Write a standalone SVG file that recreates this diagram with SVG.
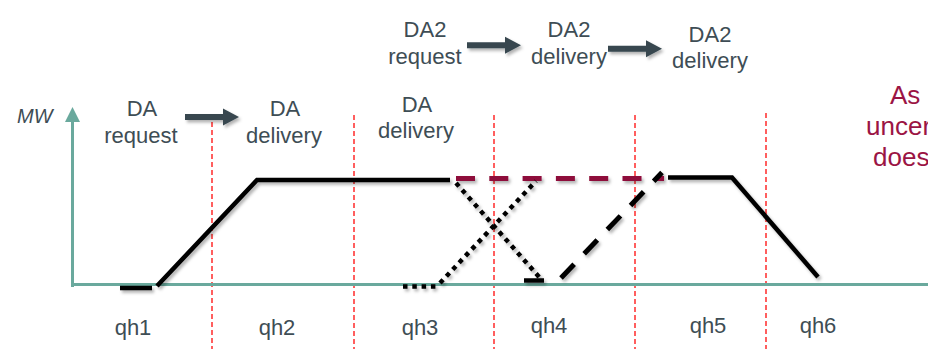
<svg xmlns="http://www.w3.org/2000/svg" width="928" height="349" viewBox="0 0 928 349">
  <defs>
    <filter id="shadow" x="-20%" y="-20%" width="140%" height="140%">
      <feDropShadow dx="2" dy="2.5" stdDeviation="1.4" flood-color="#000" flood-opacity="0.3"/>
    </filter>
    <style>
      .lbl { font-family: "Liberation Sans", Arial, sans-serif; font-size: 22px; fill: #3e4d55; text-anchor: middle; }
      .axis-lbl { font-family: "Liberation Sans", Arial, sans-serif; font-size: 20px; font-style: italic; fill: #3e4d55; }
      .note { font-family: "Liberation Sans", Arial, sans-serif; font-size: 26px; fill: #9b1444; }
      .guide { stroke: #ff2a2a; stroke-width: 1.5; stroke-dasharray: 5 3; fill: none; }
      .axis { stroke: #6aa99d; stroke-width: 3; fill: none; }
      .solid { stroke: #000; stroke-width: 4.5; fill: none; stroke-linejoin: miter; }
      .dotted { stroke: #000; stroke-width: 4.5; fill: none; stroke-dasharray: 4.5 4.8; }
      .dashed { stroke: #000; stroke-width: 5; fill: none; stroke-dasharray: 19 14.5; }
      .plan { stroke: #8e0a3a; stroke-width: 5; fill: none; stroke-dasharray: 19 14.3; }
      .step { fill: #37474f; }
    </style>
  </defs>

  <rect width="928" height="349" fill="#fff"/>

  <!-- quarter-hour boundaries -->
  <g id="guides">
    <line class="guide" x1="212" y1="122" x2="212" y2="349"/>
    <line class="guide" x1="354" y1="115" x2="354" y2="349"/>
    <line class="guide" x1="494" y1="115" x2="494" y2="349"/>
    <line class="guide" x1="635" y1="115" x2="635" y2="349"/>
    <line class="guide" x1="766" y1="113" x2="766" y2="349"/>
  </g>

  <!-- axes -->
  <g id="axes">
    <line class="axis" x1="72.5" y1="287" x2="72.5" y2="118"/>
    <polygon points="72.5,107 80,122 65,122" fill="#6aa99d"/>
    <line class="axis" x1="71" y1="284.5" x2="928" y2="284.5"/>
    <text class="axis-lbl" x="17" y="123">MW</text>
  </g>

  <!-- power profiles -->
  <g id="profiles" filter="url(#shadow)">
    <line class="solid" x1="120" y1="288" x2="152" y2="288"/>
    <polyline class="solid" points="157,286 257,180 450,180"/>
    <line class="plan" x1="456" y1="178.5" x2="664" y2="178.5"/>
    <line class="dotted" x1="403" y1="286.5" x2="436" y2="286.5"/>
    <line class="dotted" x1="440" y1="283" x2="536" y2="181"/>
    <line class="dotted" x1="456" y1="183" x2="540" y2="278"/>
    <line class="solid" x1="524" y1="280.5" x2="544" y2="280.5"/>
    <line class="dashed" x1="561" y1="278" x2="662" y2="172.5"/>
    <polyline class="solid" points="668,177.5 732,177.5 818,277"/>
  </g>

  <!-- sequence arrows -->
  <g id="arrows" filter="url(#shadow)">
    <polygon class="step" points="185,114 223,114 223,108.5 239,117 223,125.5 223,120 185,120"/>
    <polygon class="step" points="467,42.3 505,42.3 505,36.8 521,45.3 505,53.8 505,48.3 467,48.3"/>
    <polygon class="step" points="608,45.7 646,45.7 646,40.2 662,48.7 646,57.2 646,51.7 608,51.7"/>
  </g>

  <!-- market stage labels -->
  <g id="stage-labels">
    <g id="da-request">
      <text class="lbl" x="142" y="116">DA</text>
      <text class="lbl" x="141" y="142.5">request</text>
    </g>
    <g id="da-delivery-1">
      <text class="lbl" x="285" y="116">DA</text>
      <text class="lbl" x="284" y="142.5">delivery</text>
    </g>
    <g id="da-delivery-2">
      <text class="lbl" x="417" y="112">DA</text>
      <text class="lbl" x="416" y="138">delivery</text>
    </g>
    <g id="da2-request">
      <text class="lbl" x="425" y="37">DA2</text>
      <text class="lbl" x="425" y="63.5">request</text>
    </g>
    <g id="da2-delivery-1">
      <text class="lbl" x="569" y="37">DA2</text>
      <text class="lbl" x="569" y="63.5">delivery</text>
    </g>
    <g id="da2-delivery-2">
      <text class="lbl" x="710" y="42">DA2</text>
      <text class="lbl" x="710" y="68">delivery</text>
    </g>
  </g>

  <!-- quarter-hour labels -->
  <g id="qh-labels">
    <text class="lbl" x="133" y="335">qh1</text>
    <text class="lbl" x="277" y="335">qh2</text>
    <text class="lbl" x="420" y="335">qh3</text>
    <text class="lbl" x="549" y="333">qh4</text>
    <text class="lbl" x="708" y="333">qh5</text>
    <text class="lbl" x="818" y="333">qh6</text>
  </g>

  <!-- side note -->
  <g id="note">
    <text class="note" x="890" y="104">As</text>
    <text class="note" x="866" y="135">uncer</text>
    <text class="note" x="873" y="166">does</text>
  </g>
</svg>
